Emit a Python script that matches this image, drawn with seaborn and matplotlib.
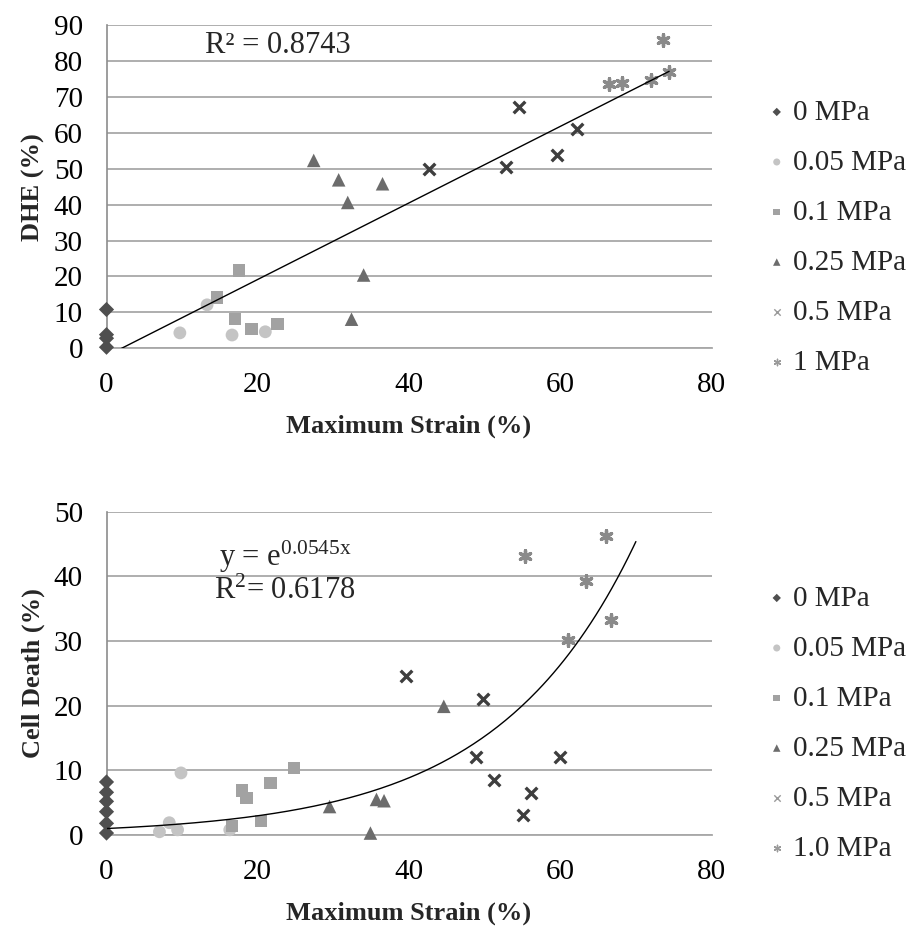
import numpy as np
import matplotlib
matplotlib.use("Agg")
import matplotlib.pyplot as plt
import seaborn as sns

# DHE vs maximum strain
dhe_0_x = [0, 0, 0, 0]
dhe_0_y = [10.8, 3.8, 2.8, 0.3]
dhe_005_x = [9.7, 13.3, 16.6, 21.0]
dhe_005_y = [4.3, 12.1, 3.7, 4.6]
dhe_01_x = [17.5, 14.6, 17.0, 19.2, 22.6]
dhe_01_y = [21.6, 14.1, 8.1, 5.3, 6.8]
dhe_025_x = [27.4, 30.7, 36.5, 31.9, 34.0, 32.4]
dhe_025_y = [52.3, 46.9, 45.8, 40.6, 20.4, 8.1]
dhe_05_x = [42.7, 52.8, 54.6, 59.6, 62.2]
dhe_05_y = [49.9, 50.6, 67.3, 53.8, 61.0]
dhe_1_x = [66.4, 68.2, 72.0, 73.6, 74.4]
dhe_1_y = [73.6, 73.8, 74.7, 85.7, 77.0]
dhe_slope = 1.065
dhe_intercept = -2.13
dhe_xmax = 74.4

# Cell death vs maximum strain
cd_0_x = [0, 0, 0, 0, 0, 0]
cd_0_y = [8.2, 6.6, 5.2, 3.6, 1.8, 0.3]
cd_005_x = [9.85, 8.3, 7.0, 9.4, 16.3]
cd_005_y = [9.6, 1.9, 0.5, 0.8, 0.8]
cd_01_x = [24.8, 21.7, 17.9, 18.5, 16.6, 20.4]
cd_01_y = [10.4, 8.0, 6.9, 5.7, 1.4, 2.2]
cd_025_x = [29.5, 35.7, 36.7, 34.9, 44.6]
cd_025_y = [4.4, 5.5, 5.3, 0.3, 19.9]
cd_05_x = [39.6, 49.8, 48.9, 51.3, 56.1, 55.1, 60.0]
cd_05_y = [24.6, 21.0, 12.1, 8.5, 6.5, 3.1, 12.1]
cd_1_x = [55.4, 66.1, 63.4, 66.7, 61.0]
cd_1_y = [43.1, 46.2, 39.3, 33.3, 30.1]
cd_rate = 0.0545
cd_xmax = 70

top_labels = ["0 MPa", "0.05 MPa", "0.1 MPa", "0.25 MPa", "0.5 MPa", "1 MPa"]
bot_labels = ["0 MPa", "0.05 MPa", "0.1 MPa", "0.25 MPa", "0.5 MPa", "1.0 MPa"]

markers = ["D", "o", "s", "^", "x", (6, 2, 0)]
colors = ["#4f4f4f", "#c4c4c4", "#a2a2a2", "#6c6c6c", "#3e3e3e", "#8a8a8a"]
sizes = [60, 85, 80, 95, 70, 70]

sns.set_style("white")
plt.rcParams["font.family"] = ["Liberation Serif", "DejaVu Serif"]
plt.rcParams["mathtext.fontset"] = "custom"
plt.rcParams["mathtext.rm"] = "Liberation Serif"
plt.rcParams["mathtext.it"] = "Liberation Serif:italic"

fig = plt.figure(figsize=(9.21, 9.33), dpi=100)
ax1 = fig.add_axes([106.5 / 921, 1 - 348.3 / 933, 605 / 921, 323.3 / 933])
ax2 = fig.add_axes([106.5 / 921, 1 - 835 / 933, 605 / 921, 323.3 / 933])


def draw_points(ax, groups, labels):
    for (x, y), lab, mk, col, sz in zip(groups, labels, markers, colors, sizes):
        filled = mk in ["D", "o", "s", "^"]
        if filled:
            sns.scatterplot(x=x, y=y, ax=ax, marker=mk, color=col, s=sz,
                            edgecolor="none", label=lab, clip_on=False, zorder=3)
        else:
            sns.scatterplot(x=x, y=y, ax=ax, marker=mk, color=col, s=sz,
                            linewidth=2.4, label=lab, clip_on=False, zorder=3)


def style_axes(ax, ymax):
    ax.set_xlim(0, 80)
    ax.set_ylim(0, ymax)
    ax.set_xticks([0, 20, 40, 60, 80])
    ax.set_yticks(range(0, ymax + 1, 10))
    ax.yaxis.grid(True, color="#a8a8a8", lw=1.3)
    ax.set_axisbelow(True)
    for s in ["top", "right"]:
        ax.spines[s].set_visible(False)
    ax.spines["left"].set_color("#8c8c8c")
    ax.spines["bottom"].set_color("#a8a8a8")
    ax.spines["left"].set_linewidth(1.2)
    ax.spines["bottom"].set_linewidth(1.3)
    ax.tick_params(axis="both", direction="out", length=8, width=1.1,
                   labelsize=21, pad=9, colors="#8c8c8c", labelcolor="black")


def add_legend(ax, center_y):
    leg = ax.legend(loc="center left", bbox_to_anchor=(768 / 921, 1 - center_y / 933),
                    bbox_transform=fig.transFigure, frameon=False, fontsize=21,
                    markerscale=0.55, handlelength=0.6, handletextpad=0.25,
                    labelspacing=0.81, borderpad=0, borderaxespad=0)
    for h in leg.legend_handles[4:]:
        h.set_linewidth(1.0)
        h.set_color("#9a9a9a")


# top panel
draw_points(ax1, [(dhe_0_x, dhe_0_y), (dhe_005_x, dhe_005_y), (dhe_01_x, dhe_01_y),
                  (dhe_025_x, dhe_025_y), (dhe_05_x, dhe_05_y), (dhe_1_x, dhe_1_y)],
            top_labels)
fit_x = np.linspace(0, dhe_xmax, 50)
sns.lineplot(x=fit_x, y=dhe_slope * fit_x + dhe_intercept, ax=ax1, color="black", lw=1, zorder=4)
style_axes(ax1, 90)
ax1.text(22.7, 84.3, "R² = 0.8743", ha="center", va="center", fontsize=22)
ax1.set_xlabel("Maximum Strain (%)", fontsize=19, fontweight="bold", labelpad=12)
ax1.set_ylabel("DHE (%)", fontsize=19, fontweight="bold", labelpad=6)
add_legend(ax1, 237.5)

# bottom panel
draw_points(ax2, [(cd_0_x, cd_0_y), (cd_005_x, cd_005_y), (cd_01_x, cd_01_y),
                  (cd_025_x, cd_025_y), (cd_05_x, cd_05_y), (cd_1_x, cd_1_y)],
            bot_labels)
fit_x2 = np.linspace(0, cd_xmax, 200)
sns.lineplot(x=fit_x2, y=np.exp(cd_rate * fit_x2), ax=ax2, color="black", lw=1, zorder=4)
style_axes(ax2, 50)
ax2.text(23.6, 43.0, "y = e$^{\\mathrm{0.0545x}}$", ha="center", va="center", fontsize=22)
ax2.text(23.6, 37.6, "R$^{\\mathrm{2}}$= 0.6178", ha="center", va="center", fontsize=22)
ax2.set_xlabel("Maximum Strain (%)", fontsize=19, fontweight="bold", labelpad=12)
ax2.set_ylabel("Cell Death (%)", fontsize=19, fontweight="bold", labelpad=6)
add_legend(ax2, 723.5)

fig.savefig("out.png", dpi=100, facecolor="white")
